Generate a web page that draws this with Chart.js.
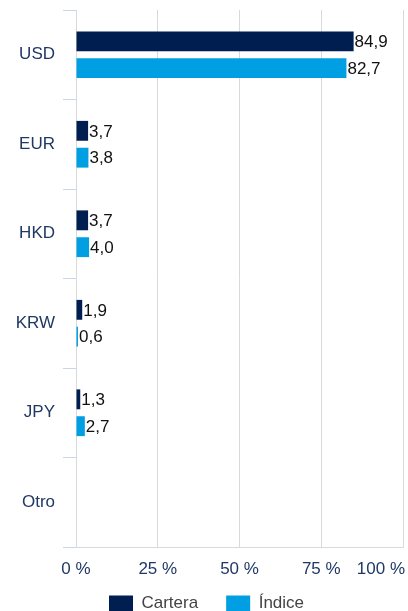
<!DOCTYPE html>
<html>
<head>
<meta charset="utf-8">
<script src="https://cdn.jsdelivr.net/npm/chart.js@4"></script>
<style>
  html, body { margin: 0; padding: 0; overflow: hidden; background: #fff; }
  #wrap { width: 408px; height: 622px; position: relative; }
</style>
</head>
<body>
<div id="wrap"><canvas id="barChart"></canvas></div>
<script>
const categories = ['USD', 'EUR', 'HKD', 'KRW', 'JPY', 'Otro'];
const cartera = [84.9, 3.7, 3.7, 1.9, 1.3, null];
const indice = [82.7, 3.8, 4.0, 0.6, 2.7, null];
const xTicks = [0, 25, 50, 75, 100];

const navy = '#001e50';
const blue = '#009fe3';
const labelColor = '#1f3864';

Chart.defaults.font.family = '"Liberation Sans", Arial, sans-serif';
Chart.defaults.font.size = 17;

const valueLabels = {
    id: 'valueLabels',
    afterDatasetsDraw(chart) {
        const ctx = chart.ctx;
        ctx.save();
        ctx.font = '17px "Liberation Sans", Arial, sans-serif';
        ctx.fillStyle = '#111';
        ctx.textBaseline = 'middle';
        chart.data.datasets.forEach((ds, i) => {
            chart.getDatasetMeta(i).data.forEach((bar, j) => {
                const v = ds.data[j];
                if (v == null) return;
                ctx.fillText(v.toFixed(1).replace('.', ','), bar.x + 1, bar.y + 1);
            });
        });
        ctx.restore();
    }
};

// x tick labels, last one pulled inside the canvas
const xLabels = {
    id: 'xLabels',
    afterDraw(chart) {
        const ctx = chart.ctx;
        const sx = chart.scales.x;
        ctx.save();
        ctx.font = '17px "Liberation Sans", Arial, sans-serif';
        ctx.fillStyle = labelColor;
        ctx.textBaseline = 'middle';
        xTicks.forEach(v => {
            const txt = v + ' %';
            const w = ctx.measureText(txt).width;
            let px = sx.getPixelForValue(v) - w / 2;
            px = Math.min(px, chart.width - 3 - w);
            ctx.fillText(txt, px, chart.chartArea.bottom + 22);
        });
        ctx.restore();
    }
};

new Chart(document.getElementById('barChart'), {
    type: 'bar',
    data: {
        labels: categories,
        datasets: [
            {
                label: 'Cartera',
                data: cartera,
                backgroundColor: navy,
                barPercentage: 0.74,
                categoryPercentage: 0.6
            },
            {
                label: 'Índice',
                data: indice,
                backgroundColor: blue,
                barPercentage: 0.74,
                categoryPercentage: 0.6
            }
        ]
    },
    options: {
        indexAxis: 'y',
        responsive: true,
        maintainAspectRatio: false,
        animation: false,
        events: [],
        layout: { padding: { top: 10, right: 5, left: 10, bottom: 0 } },
        scales: {
            x: {
                min: 0,
                max: 100,
                ticks: { display: false, stepSize: 25 },
                grid: { color: '#d9d9d9', drawTicks: false },
                border: { color: '#d9d9d9' },
                afterFit(scale) { scale.height = 20; }
            },
            y: {
                ticks: { color: labelColor, padding: 8, font: { size: 17 } },
                grid: { offset: true, drawOnChartArea: false, tickLength: 13, color: '#c9d6ea' },
                border: { display: false },
                afterFit(scale) {
                    scale.width = 66;
                    scale.paddingTop = 0;
                    scale.paddingBottom = 0;
                }
            }
        },
        plugins: {
            legend: {
                position: 'bottom',
                labels: {
                    boxWidth: 24,
                    boxHeight: 16,
                    padding: 28,
                    color: '#444',
                    font: { size: 17 }
                }
            },
            tooltip: { enabled: false }
        }
    },
    plugins: [valueLabels, xLabels]
});
</script>
</body>
</html>
